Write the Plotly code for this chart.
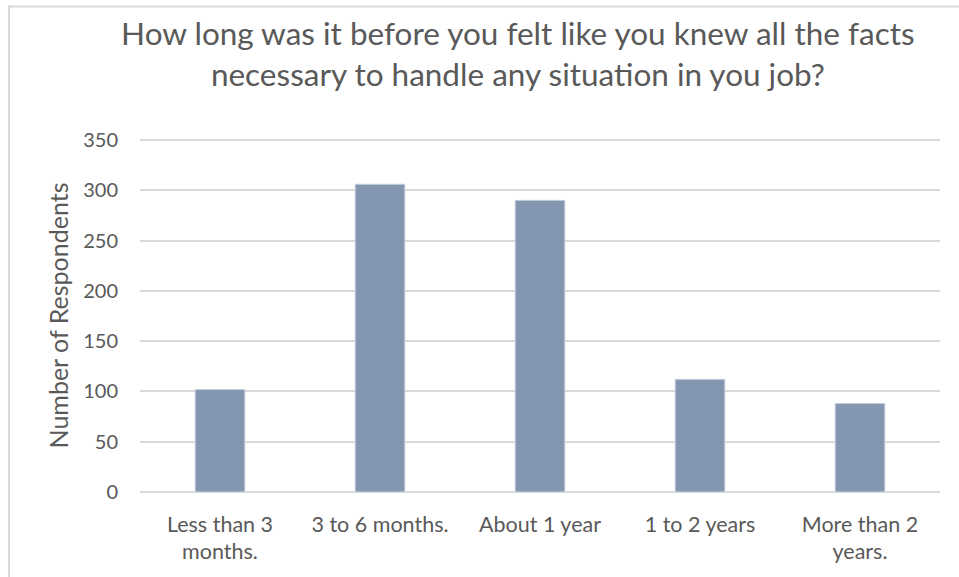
import plotly.graph_objects as go

# Survey responses: time until respondents felt they knew all necessary facts
categories = ["Less than 3<br>months.", "3 to 6 months.", "About 1 year",
              "1 to 2 years", "More than 2<br>years."]
respondents = [102, 306, 290, 112, 88]
y_ticks = [0, 50, 100, 150, 200, 250, 300, 350]

TEXT = "#595959"
GRID = "#d9d9d9"
FONT = "Lato, 'Open Sans', sans-serif"

fig = go.Figure(
    go.Bar(
        x=categories,
        y=respondents,
        marker=dict(color="#8497b0", line=dict(color="#c5cfdc", width=1)),
        hoverinfo="x+y",
    )
)

fig.update_layout(
    width=959,
    height=577,
    margin=dict(l=140, r=19, t=139, b=85),
    paper_bgcolor="white",
    plot_bgcolor="white",
    bargap=0.69,
    showlegend=False,
    font=dict(family=FONT, color=TEXT, size=20),
    title=dict(
        text="How long was it before you felt like you knew all the facts<br>"
             "necessary to handle any situation in you job?",
        x=0.54, xanchor="center",
        y=1 - 45 / 577, yanchor="middle",
        font=dict(family=FONT, size=31.5, color=TEXT),
    ),
    # light chart-area frame
    shapes=[
        dict(type="rect", xref="paper", yref="paper",
             x0=-0.1637, x1=1.2, y0=-0.6, y1=1.3754,
             line=dict(color=GRID, width=2), fillcolor="rgba(0,0,0,0)",
             layer="below"),
    ],
)

fig.update_xaxes(
    showgrid=False,
    showline=False,
    ticks="",
    ticklabelstandoff=17,
    tickfont=dict(size=21.5, color=TEXT),
)

fig.update_yaxes(
    range=[0, 351],
    tickvals=y_ticks,
    showgrid=True,
    gridcolor=GRID,
    gridwidth=1.5,
    zeroline=True,
    zerolinecolor=GRID,
    zerolinewidth=1.5,
    showline=False,
    ticks="",
    ticklabelstandoff=21,
    tickfont=dict(size=20, color=TEXT),
    title=dict(text="Number of Respondents", font=dict(size=25, color=TEXT),
               standoff=7),
)

fig.write_html("out.html")
